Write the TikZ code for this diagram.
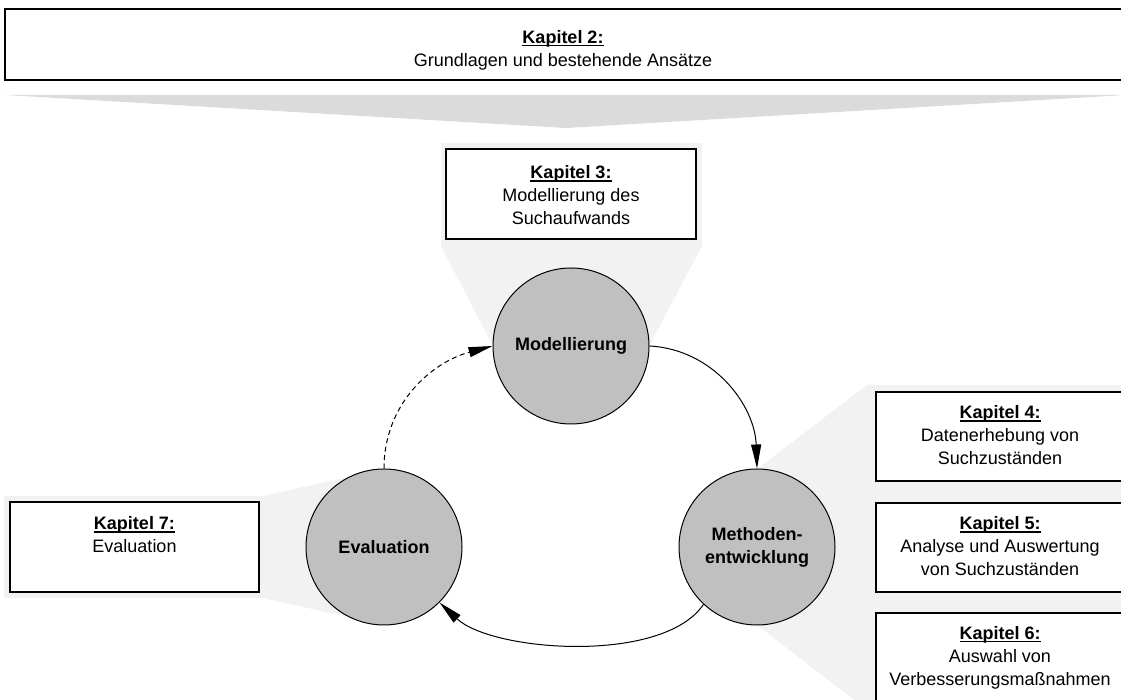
\documentclass[tikz,border=0pt]{standalone}
\usepackage{fontspec}
\setmainfont{Liberation Sans}
\usetikzlibrary{arrows.meta}
\definecolor{circgray}{HTML}{C0C0C0}
\definecolor{lightfun}{HTML}{F2F2F2}
\definecolor{topfun}{HTML}{DBDBDB}
\newcommand\kapul[1]{{\bfseries\setbox0\hbox{#1}\rlap{\rule[-2.6pt]{\wd0}{1.1pt}}\box0}}
\newcommand\fsz{\fontsize{18}{23}\selectfont}
\tikzset{
  chapbox/.style={draw=black, line width=1.2pt, fill=white, inner sep=0pt},
  chaptxt/.style={align=center, font=\fsz, inner sep=0pt},
  phase/.style={circle, draw=black, line width=1pt, fill=circgray, minimum size=156pt,
                inner sep=0pt, font=\fsz\bfseries, align=center},
  flow/.style={line width=1pt, -{Triangle[length=24pt,width=10pt]}},
  funnel/.style={fill=lightfun, draw=none},
}
\begin{document}
\begin{tikzpicture}[x=1pt,y=1pt]
\useasboundingbox (0,0) rectangle (1121,700);
% funnels
\fill[topfun] (5,605) -- (1126,605) -- (566,572) -- cycle;
\fill[funnel] (441,557) -- (702,557) -- (702,454) -- (649,354) -- (493,354) -- (441,454) -- cycle;
\fill[funnel] (757,231) -- (867,315) -- (1126,315) -- (1126,-10) -- (867,-10) -- (757,75) -- cycle;
\fill[funnel] (4,204) -- (263,204) -- (384,231) -- (384,75) -- (263,102) -- (4,102) -- cycle;
% boxes
\node[chapbox, minimum width=1117pt, minimum height=71pt] (k2) at (563.5,655.5) {};
\node[chaptxt] (k2t) at (563,649.5) {\kapul{Kapitel 2:}\\Grundlagen und bestehende Ansätze};
\node[chapbox, minimum width=250pt, minimum height=90pt] (k3) at (571,506) {};
\node[chaptxt] (k3t) at (571,504.5) {\kapul{Kapitel 3:}\\Modellierung des\\Suchaufwands};
\node[chapbox, minimum width=249pt, minimum height=89pt] (k4) at (1000.5,263.5) {};
\node[chaptxt] (k4t) at (1000,264.5) {\kapul{Kapitel 4:}\\Datenerhebung von\\Suchzuständen};
\node[chapbox, minimum width=249pt, minimum height=89pt] (k5) at (1000.5,152.5) {};
\node[chaptxt] (k5t) at (1000,153.5) {\kapul{Kapitel 5:}\\Analyse und Auswertung\\von Suchzuständen};
\node[chapbox, minimum width=249pt, minimum height=92pt] (k6) at (1000.5,41) {};
\node[chaptxt] (k6t) at (1000,42.5) {\kapul{Kapitel 6:}\\Auswahl von\\Verbesserungsmaßnahmen};
\node[chapbox, minimum width=249pt, minimum height=90pt] (k7) at (134.5,153) {};
\node[chaptxt] (k7t) at (134.5,165) {\kapul{Kapitel 7:}\\Evaluation};
% phases
\node[phase] (mod) at (571,354) {Modellierung};
\node[phase] (meth) at (757,153) {Methoden-\\entwicklung};
\node[phase] (eval) at (384,153) {Evaluation};
% connectors
\draw[flow] (mod.east) to[out=-3,in=92] (meth.north);
\draw[flow] (meth.227) to[out=236,in=-43,looseness=0.7] (eval.-45);
\draw[flow, dash pattern=on 5pt off 3.5pt] (eval.north) to[out=90,in=195] (mod.west);
\end{tikzpicture}
\end{document}
